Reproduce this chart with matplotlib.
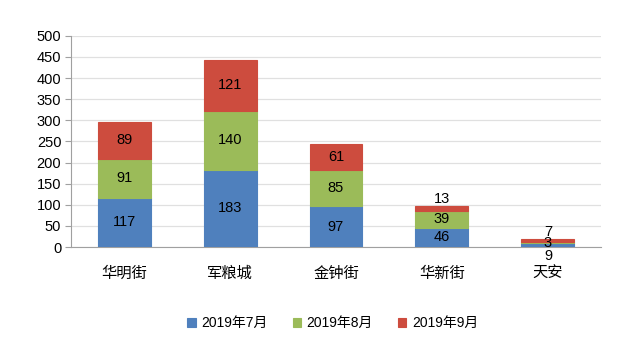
import numpy as np
import matplotlib.pyplot as plt

plt.rcParams['font.family'] = ['Liberation Sans', 'Noto Sans CJK SC', 'DejaVu Sans']

# 数据
categories = ['华明街', '军粮城', '金钟街', '华新街', '天安']
jul = [117, 183, 97, 46, 9]
aug = [91, 140, 85, 39, 3]
sep = [89, 121, 61, 13, 7]
series_names = ['2019年7月', '2019年8月', '2019年9月']
colors = ['#4F80BD', '#9BBB59', '#CD4C3E']

fig = plt.figure(figsize=(6.4, 3.55), dpi=100)
ax = fig.add_axes([0.111, 0.304, 0.828, 0.595])

x = np.arange(len(categories))
bottom = np.zeros(len(categories))
for vals, c, name in zip([jul, aug, sep], colors, series_names):
    ax.bar(x, vals, 0.5, bottom=bottom, color=c, label=name,
           edgecolor=c, linewidth=0.8, zorder=3)
    for xi, v, b in zip(x, vals, bottom):
        total = jul[xi] + aug[xi] + sep[xi]
        if v >= 20:
            y, va = b + v / 2, 'center'
        elif total < 30:
            # 天安: 小值标签分散放置
            if name == series_names[0]:
                y, va = -5, 'top'
            elif name == series_names[1]:
                y, va = b + v / 2, 'center'
            else:
                y, va = b + v - 1, 'bottom'
        else:
            y, va = b + v, 'bottom'
        ax.text(xi, y, str(v), ha='center', va=va, fontsize=10.5,
                color='black', zorder=4)
    bottom += np.array(vals)

ax.set_xlim(-0.5, len(categories) - 0.5)
ax.set_ylim(0, 500)
ax.set_yticks(np.arange(0, 501, 50))
ax.set_xticks(x)
ax.set_xticklabels(categories, fontsize=11)
ax.tick_params(axis='x', length=0, pad=14)
ax.tick_params(axis='y', length=4, color='#A0A0A0', labelsize=10.5, pad=3)
ax.grid(axis='y', color='#E0E0E0', linewidth=0.9, zorder=0)
for s in ['top', 'right']:
    ax.spines[s].set_visible(False)
ax.spines['left'].set_color('#A0A0A0')
ax.spines['bottom'].set_color('#A0A0A0')

fig.legend(loc='center', bbox_to_anchor=(0.52, 0.09), ncol=3, frameon=False,
           fontsize=10, handlelength=0.6, handleheight=0.6, handletextpad=0.4,
           columnspacing=1.8)

fig.savefig('out.png', dpi=100)
